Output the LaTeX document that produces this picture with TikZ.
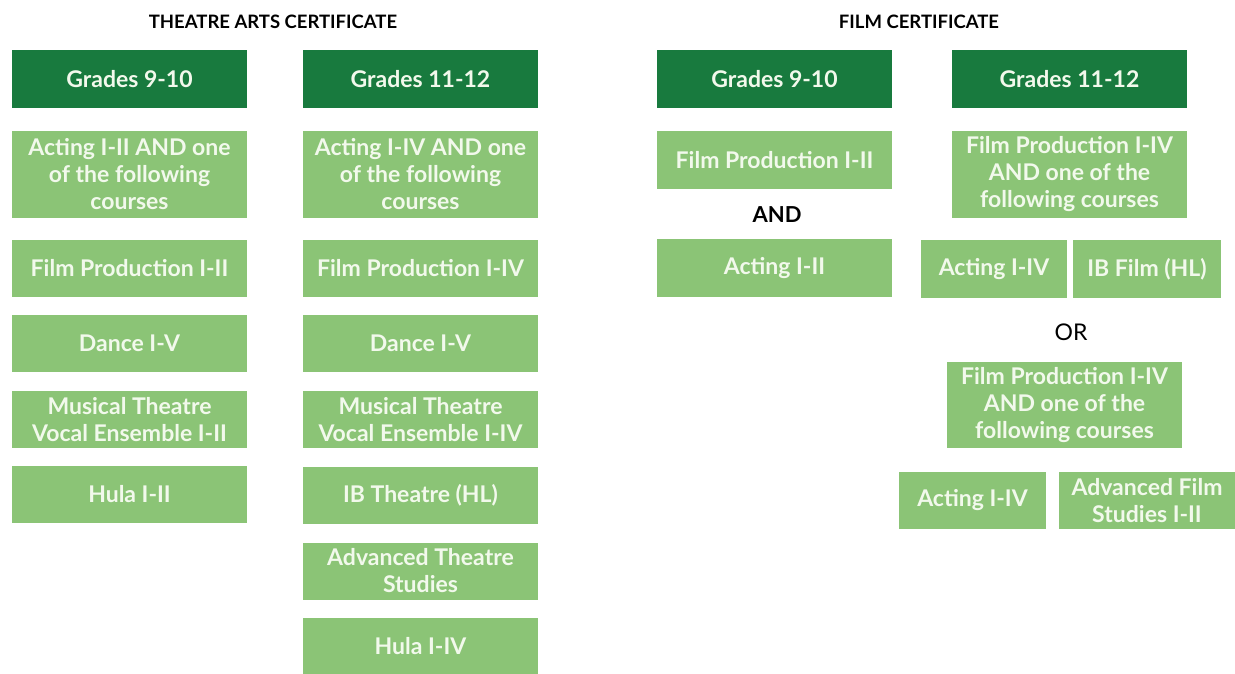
\documentclass[tikz,border=0pt]{standalone}
\usepackage{fontspec}
\setmainfont{Lato}
\definecolor{darkgrn}{RGB}{24,122,62}
\definecolor{lightgrn}{RGB}{139,196,118}
\definecolor{paletxt}{RGB}{242,249,236}
\tikzset{
  hdr/.style={fill=darkgrn, text=paletxt, minimum width=235pt, minimum height=58pt, inner sep=0pt,
    font=\fontsize{23}{27}\selectfont\bfseries},
  crs/.style={fill=lightgrn, text=paletxt, minimum width=235pt, minimum height=57pt, inner sep=0pt,
    align=center, font=\fontsize{23}{27}\selectfont\bfseries},
  ttl/.style={text=black, font=\fontsize{18.5}{22}\selectfont\bfseries},
  lbl/.style={text=black, font=\fontsize{22}{25}\selectfont\bfseries}
}
\begin{document}
\begin{tikzpicture}[x=1pt, y=-1pt]
	\useasboundingbox[fill=white] (0,0) rectangle (1235,673);
	% theatre arts
	\node[ttl] (tatitle) at (273,22)  {THEATRE ARTS CERTIFICATE};
	\node[hdr] (talow)   at (129.5,79) {Grades 9-10};
	\node[hdr] (tahigh)  at (420.5,79) {Grades 11-12};
	\node[crs, minimum height=87pt] (talowa) at (129.5,174.5) {Acting I-II AND one\\of the following\\courses};
	\node[crs] (talowb) at (129.5,268.5) {Film Production I-II};
	\node[crs] (talowc) at (129.5,343.5) {Dance I-V};
	\node[crs] (talowd) at (129.5,419.5) {Musical Theatre\\Vocal Ensemble I-II};
	\node[crs] (talowe) at (129.5,494.5) {Hula I-II};
	\node[crs, minimum height=87pt] (tahigha) at (420.5,174.5) {Acting I-IV AND one\\of the following\\courses};
	\node[crs] (tahighb) at (420.5,268.5) {Film Production I-IV};
	\node[crs] (tahighc) at (420.5,343.5) {Dance I-V};
	\node[crs] (tahighd) at (420.5,419.5) {Musical Theatre\\Vocal Ensemble I-IV};
	\node[crs] (tahighe) at (420.5,495)   {IB Theatre (HL)};
	\node[crs] (tahighf) at (420.5,571)   {Advanced Theatre\\Studies};
	\node[crs] (tahighg) at (420.5,646)   {Hula I-IV};
	% film
	\node[ttl] (fmtitle) at (919,22)    {FILM CERTIFICATE};
	\node[hdr] (fmlow)   at (774.5,79)  {Grades 9-10};
	\node[hdr] (fmhigh)  at (1069.5,79) {Grades 11-12};
	\node[crs, minimum height=58pt] (fmlowa) at (774.5,160) {Film Production I-II};
	\node[lbl] (fmand) at (777,215) {AND};
	\node[crs, minimum height=58pt] (fmlowb) at (774.5,268) {Acting I-II};
	\node[crs, minimum height=87pt] (fmhigha) at (1069.5,174.5) {Film Production I-IV\\AND one of the\\following courses};
	\node[crs, minimum width=146pt, minimum height=58pt] (fmhighb) at (994,269)  {Acting I-IV};
	\node[crs, minimum width=148pt, minimum height=58pt] (fmhighc) at (1147,269) {IB Film (HL)};
	\node[lbl, font=\fontsize{23}{25}\selectfont] (fmor) at (1071,332) {OR};
	\node[crs, minimum height=86pt] (fmhighd) at (1064.5,405) {Film Production I-IV\\AND one of the\\following courses};
	\node[crs, minimum width=147pt] (fmhighe) at (972.5,500.5) {Acting I-IV};
	\node[crs, minimum width=176pt] (fmhighf) at (1147,500.5) {Advanced Film\\Studies I-II};
\end{tikzpicture}
\end{document}
